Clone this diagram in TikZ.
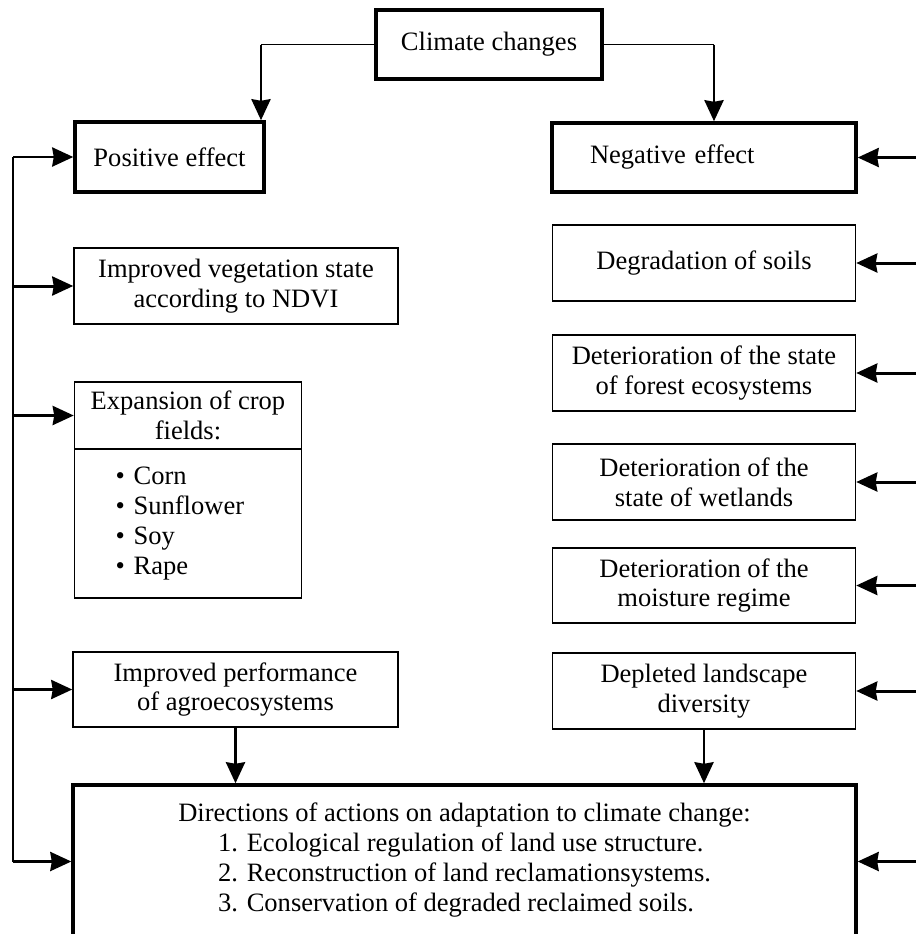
\documentclass[tikz,border=0pt]{standalone}
\usepackage{fontspec}
\setmainfont{Liberation Serif}
\usetikzlibrary{arrows.meta,positioning}
\tikzstyle{heavybox} = [draw, line width=2pt, align=center]
\tikzstyle{plainbox} = [draw, line width=0.9pt, align=center]
\tikzstyle{rail} = [line width=1.7pt]
\tikzstyle{feed} = [line width=1.7pt, -{Stealth[length=0.42cm,width=0.38cm,inset=0.03cm]}]

\begin{document}
\begin{tikzpicture}[x=0.02cm, y=-0.02cm, font=\fontsize{15.1}{17}\selectfont]
                \clip (0,0) rectangle (916,934);

                \node (clim) [heavybox, minimum width=4.52cm, minimum height=1.38cm] at (489,44.5) {Climate changes};
                \node (pos) [heavybox, minimum width=3.78cm, minimum height=1.4cm] at (169.5,157) {Positive effect};
                \node (neg) [heavybox, minimum height=1.38cm, text width=4.56cm, inner xsep=0.76cm, align=left] at (704,157.5) {Negative effect};

                \node (veg) [plainbox, minimum width=6.48cm, minimum height=1.52cm] at (236,286) {Improved vegetation state\\according to NDVI};
                \node (exp) [plainbox, minimum width=4.54cm, minimum height=1.34cm] at (188,415.5) {Expansion of crop\\fields:};
                \node (crops) [plainbox, below=-0.9pt of exp, minimum height=2.98cm, text width=2.9cm, inner xsep=0.82cm, align=left] {\textbullet\ Corn\\\textbullet\ Sunflower\\\textbullet\ Soy\\\textbullet\ Rape};
                \node (perf) [plainbox, minimum width=6.5cm, minimum height=1.5cm] at (235.5,689.5) {Improved performance\\of agroecosystems};

                \node (deg) [plainbox, minimum width=6.06cm, minimum height=1.52cm] at (704,263) {Degradation of soils};
                \node (forest) [plainbox, minimum width=6.06cm, minimum height=1.52cm] at (704,373) {Deterioration of the state\\of forest ecosystems};
                \node (wet) [plainbox, minimum width=6.06cm, minimum height=1.52cm] at (704,482) {Deterioration of the\\state of wetlands};
                \node (moist) [plainbox, minimum width=6.06cm, minimum height=1.5cm] at (704,585.5) {Deterioration of the\\moisture regime};
                \node (depl) [plainbox, minimum width=6.06cm, minimum height=1.52cm] at (704,691) {Depleted landscape\\diversity};

                \node (dir) [heavybox, minimum width=15.66cm, minimum height=3.06cm] at (464.5,861.5) {Directions of actions on adaptation to climate change:\\\begin{tabular}[t]{@{}l@{}}1. Ecological regulation of land use structure.\\2. Reconstruction of land reclamationsystems.\\3. Conservation of degraded reclaimed soils.\end{tabular}};

                \coordinate (lbend) at (261,0);
                \coordinate (rbend) at (714,0);
                \coordinate (lrail) at (13,0);
                \coordinate (rrail) at (930,0);

                \draw [line width=0.9pt] (clim.west) -- (lbend |- clim.west);
                \draw [feed] (lbend |- clim.west) -- (lbend |- pos.north);
                \draw [line width=0.9pt] (clim.east) -- (rbend |- clim.east);
                \draw [feed] (rbend |- clim.east) -- (rbend |- neg.north);

                \draw [rail] (lrail |- pos.west) -- (lrail |- dir.west);
                \draw [feed] (lrail |- pos.west) -- (pos.west);
                \draw [feed] (lrail |- veg.west) -- (veg.west);
                \draw [feed] (lrail |- exp.west) -- (exp.west);
                \draw [feed] (lrail |- perf.west) -- (perf.west);
                \draw [feed] (lrail |- dir.west) -- (dir.west);

                \draw [feed] (rrail |- neg.east) -- (neg.east);
                \draw [feed] (rrail |- deg.east) -- (deg.east);
                \draw [feed] (rrail |- forest.east) -- (forest.east);
                \draw [feed] (rrail |- wet.east) -- (wet.east);
                \draw [feed] (rrail |- moist.east) -- (moist.east);
                \draw [feed] (rrail |- depl.east) -- (depl.east);
                \draw [feed] (rrail |- dir.east) -- (dir.east);

                \draw [feed] (perf.south) -- (perf.south |- dir.north);
                \draw [feed] (depl.south) -- (depl.south |- dir.north);
            \end{tikzpicture}
\end{document}
